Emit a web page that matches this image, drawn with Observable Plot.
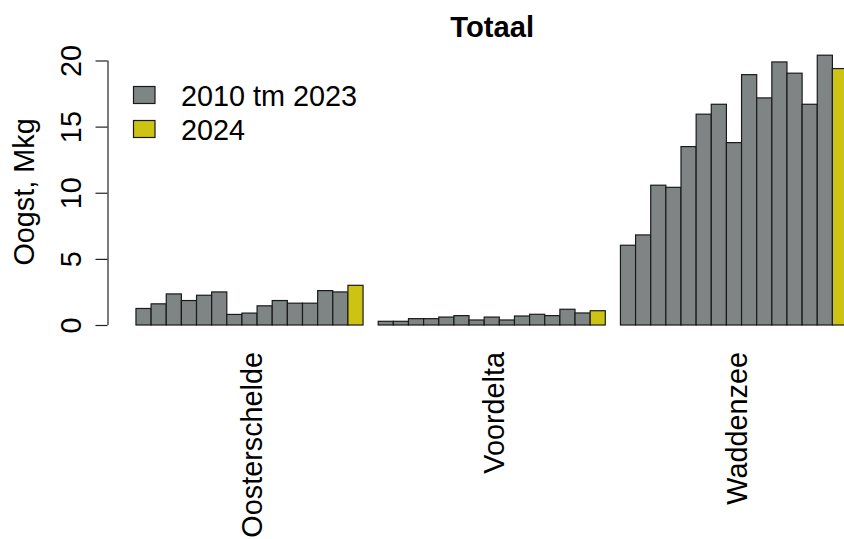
<!DOCTYPE html>
<html>
<head>
<meta charset="utf-8">
<script src="https://cdn.jsdelivr.net/npm/d3@7"></script>
<script src="https://cdn.jsdelivr.net/npm/@observablehq/plot@0.6"></script>
<style>
  html, body { margin: 0; padding: 0; background: #fff; overflow: hidden; }
  #wrap { position: relative; width: 844px; height: 539px; overflow: hidden; }
  #wrap svg { position: absolute; left: 0; top: 0; max-width: none !important; }
</style>
</head>
<body>
<div id="wrap"></div>
<script>
const regions = ["Oosterschelde", "Voordelta", "Waddenzee"];
const years = [2010, 2011, 2012, 2013, 2014, 2015, 2016, 2017, 2018, 2019, 2020, 2021, 2022, 2023, 2024];
const oosterschelde = [1.25, 1.6, 2.35, 1.85, 2.25, 2.5, 0.8, 0.9, 1.45, 1.85, 1.65, 1.65, 2.6, 2.5, 3.0];
const voordelta = [0.28, 0.28, 0.48, 0.48, 0.6, 0.71, 0.38, 0.6, 0.38, 0.68, 0.81, 0.71, 1.19, 0.91, 1.08];
const waddenzee = [6.03, 6.81, 10.57, 10.41, 13.49, 15.94, 16.69, 13.79, 18.93, 17.17, 19.89, 19.04, 16.69, 20.4, 19.39];
const periods = ["2010 tm 2023", "2024"];
const palette = ["#7f8585", "#cdc312"];
const yTicks = [0, 5, 10, 15, 20];
const title = "Totaal";
const yLabel = "Oogst, Mkg";

const FONT = "'Liberation Sans', Arial, Helvetica, sans-serif";
const FS = 28.8;

const series = [oosterschelde, voordelta, waddenzee];
const perGroup = years.length + 1;
const table = regions.flatMap((r, ri) => years.map((yr, yi) => ({
  region: r, year: yr, value: series[ri][yi],
  slot: ri * perGroup + yi,
  period: yr === years[years.length - 1] ? periods[1] : periods[0]
})));
const span = regions.length * perGroup - 1;
const xDomain = [-0.04 * span, span * 1.04];
const maxV = d3.max(table, d => d.value);
const yLo = -0.01 * maxV, yHi = maxV;
const yExt = (yHi - yLo) * 0.04;
const yDomain = [yLo - yExt, yHi + yExt];
const groupCenters = regions.map((r, ri) => ({region: r, c: ri * perGroup + years.length / 2}));

const chart = Plot.plot({
  width: 876,
  height: 539,
  marginLeft: 107.5,
  marginRight: 0,
  marginTop: 44.3,
  marginBottom: 200.4,
  style: {fontFamily: FONT, background: "white", overflow: "hidden", maxWidth: "none"},
  x: {type: "linear", domain: xDomain, axis: null},
  y: {domain: yDomain, axis: null},
  color: {domain: periods, range: palette},
  marks: [
    Plot.rect(table, {x1: "slot", x2: d => d.slot + 1, y1: 0, y2: "value", fill: "period", stroke: "#1a1a1a", strokeWidth: 1.2}),
    Plot.ruleX([xDomain[0]], {y1: yTicks[0], y2: yTicks[yTicks.length - 1], stroke: "#222", strokeWidth: 1.2}),
    Plot.axisY({ticks: yTicks, tickSize: 12, fill: "none", stroke: "#222", strokeWidth: 1.2, label: null}),
    Plot.text(yTicks, {y: d => d, text: d => String(d), frameAnchor: "left", rotate: -90, dx: -27.5, textAnchor: "middle", lineAnchor: "bottom", fontSize: FS, fill: "#000"}),
    Plot.text([yLabel], {frameAnchor: "left", text: d => d, rotate: -90, dx: -74.2, textAnchor: "middle", lineAnchor: "bottom", fontSize: FS, fill: "#000"}),
    Plot.text(groupCenters, {x: "c", text: "region", frameAnchor: "bottom", dy: 12.9, dx: 3, rotate: -90, textAnchor: "end", lineAnchor: "middle", fontSize: FS, fill: "#000"}),
    Plot.text([title], {frameAnchor: "top", text: d => d, dy: -7.6, lineAnchor: "bottom", textAnchor: "middle", fontSize: 29.2, fontWeight: "bold", fill: "#000"})
  ]
});
document.getElementById("wrap").appendChild(chart);

// legend overlay
const leg = d3.select("#wrap").append("svg")
  .attr("width", 844).attr("height", 539)
  .style("pointer-events", "none");
const rows = periods.map((p, i) => ({label: p, color: palette[i], boxY: 86.5 + i * 34, baseY: 106 + i * 34}));
leg.selectAll("rect").data(rows).join("rect")
  .attr("x", 133.5).attr("y", d => d.boxY).attr("width", 21.5).attr("height", 17)
  .attr("fill", d => d.color).attr("stroke", "#1a1a1a").attr("stroke-width", 1.2);
leg.selectAll("text").data(rows).join("text")
  .attr("x", 181).attr("y", d => d.baseY)
  .attr("font-family", FONT).attr("font-size", FS).attr("fill", "#000")
  .text(d => d.label);
</script>
</body>
</html>
